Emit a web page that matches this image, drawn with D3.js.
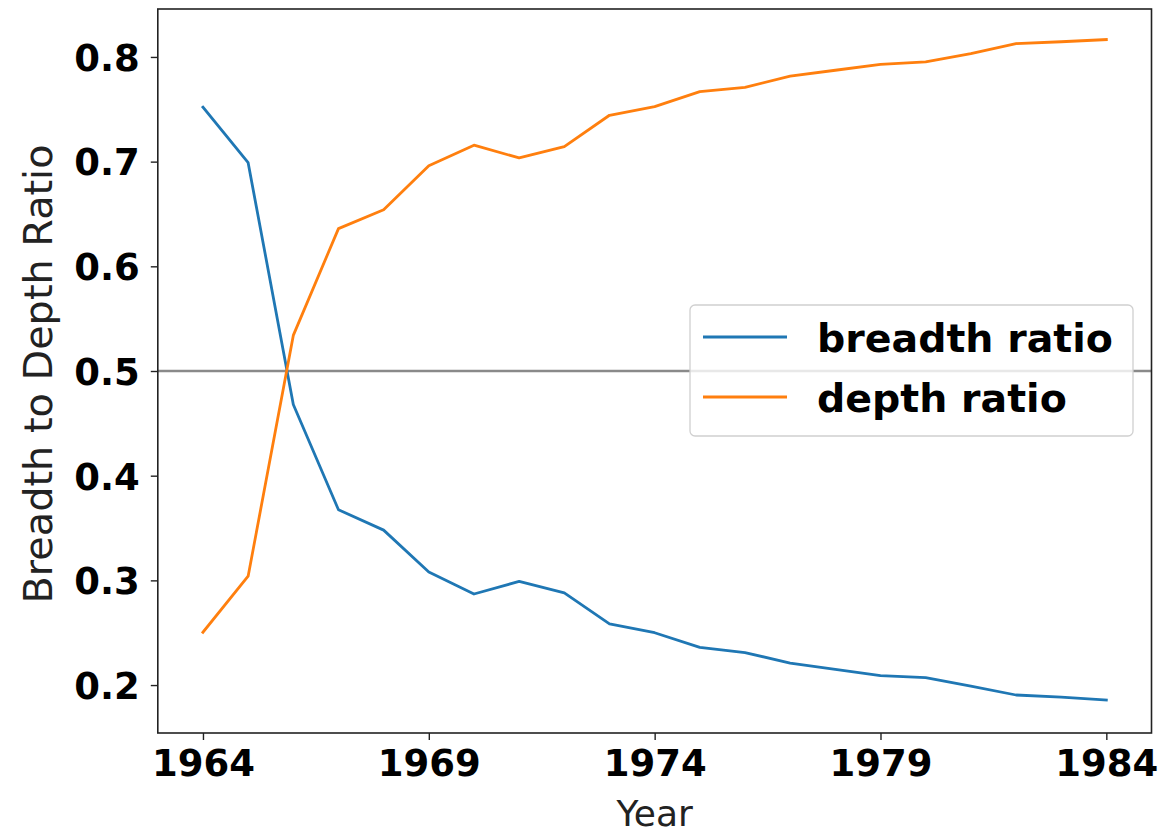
<!DOCTYPE html>
<html>
<head>
<meta charset="utf-8">
<script src="https://cdn.jsdelivr.net/npm/d3@7"></script>
<style>
  body { margin: 0; background: #fff; }
  svg { display: block; font-family: "DejaVu Sans", sans-serif; }
</style>
</head>
<body>
<div id="chart"></div>
<script>
// data
var years = [1964, 1965, 1966, 1967, 1968, 1969, 1970, 1971, 1972, 1973, 1974,
             1975, 1976, 1977, 1978, 1979, 1980, 1981, 1982, 1983, 1984];
var breadthRatio = [0.752, 0.699, 0.468, 0.3675, 0.348, 0.308, 0.287, 0.299, 0.288, 0.2585, 0.250,
                    0.236, 0.231, 0.221, 0.215, 0.209, 0.207, 0.199, 0.1905, 0.1885, 0.1857];
var depthRatio = [0.2505, 0.304, 0.534, 0.636, 0.654, 0.696, 0.7157, 0.7035, 0.7143, 0.7443, 0.7525,
                  0.7669, 0.771, 0.7816, 0.7873, 0.793, 0.7952, 0.8032, 0.8128, 0.8145, 0.8166];
var xTicks = [1964, 1969, 1974, 1979, 1984];
var yTicks = [0.2, 0.3, 0.4, 0.5, 0.6, 0.7, 0.8];
var seriesNames = ["breadth ratio", "depth ratio"];
var refLine = 0.5;

var width = 1176, height = 835;
// plot box (note: "top" is taken by window.top)
var box = {left: 157.8, right: 1151.5, top: 9, bottom: 733};

var svg = d3.select("#chart").append("svg")
    .attr("width", width)
    .attr("height", height);

var x = d3.scaleLinear().domain([1963, 1985]).range([box.left, box.right]);
var y = d3.scaleLinear().domain([0.1542, 0.8458]).range([box.bottom, box.top]);

var colors = ["#1f77b4", "#ff7f0e"];
var series = [breadthRatio, depthRatio];

// lines
var line = d3.line()
    .x(function(d, i){ return x(years[i]); })
    .y(function(d){ return y(d); });

var plot = svg.append("g");

plot.append("line")
    .attr("x1", box.left).attr("x2", box.right)
    .attr("y1", y(refLine)).attr("y2", y(refLine))
    .attr("stroke", "#8a8a8a")
    .attr("stroke-width", 2.7);

series.forEach(function(s, k){
    plot.append("path")
        .datum(s)
        .attr("d", line)
        .attr("fill", "none")
        .attr("stroke", colors[k])
        .attr("stroke-width", 2.8)
        .attr("stroke-linejoin", "round")
        .attr("stroke-linecap", "square");
});

// axes
var xAxis = svg.append("g")
    .attr("transform", "translate(0," + box.bottom + ")")
    .call(d3.axisBottom(x).tickValues(xTicks).tickFormat(d3.format("d")).tickSize(7).tickPadding(10));

var yAxis = svg.append("g")
    .attr("transform", "translate(" + box.left + ",0)")
    .call(d3.axisLeft(y).tickValues(yTicks).tickFormat(d3.format(".1f")).tickSize(7).tickPadding(11));

[xAxis, yAxis].forEach(function(a){
    a.select(".domain").remove();
    a.selectAll(".tick line").attr("stroke", "#222").attr("stroke-width", 1.4);
    a.selectAll(".tick text")
        .attr("fill", "#000")
        .attr("font-size", 37)
        .attr("font-weight", "bold")
        .attr("font-family", "DejaVu Sans");
});
yAxis.selectAll(".tick text").attr("dy", "0.36em");

// frame
svg.append("rect")
    .attr("x", box.left).attr("y", box.top)
    .attr("width", box.right - box.left).attr("height", box.bottom - box.top)
    .attr("fill", "none")
    .attr("stroke", "#222")
    .attr("stroke-width", 1.6);

// axis labels
svg.append("text")
    .attr("x", (box.left + box.right) / 2)
    .attr("y", 826)
    .attr("text-anchor", "middle")
    .attr("font-size", 36)
    .attr("fill", "#222")
    .text("Year");

svg.append("text")
    .attr("transform", "translate(52,374) rotate(-90)")
    .attr("text-anchor", "middle")
    .attr("font-size", 39.8)
    .attr("fill", "#222")
    .text("Breadth to Depth Ratio");

// legend
var legend = svg.append("g").attr("transform", "translate(690,305)");
legend.append("rect")
    .attr("width", 443).attr("height", 131)
    .attr("rx", 5)
    .attr("fill", "#fff")
    .attr("fill-opacity", 0.8)
    .attr("stroke", "#d0d0d0")
    .attr("stroke-width", 1.3);

seriesNames.forEach(function(name, k){
    var g = legend.append("g").attr("transform", "translate(0," + (32 + k * 60) + ")");
    g.append("line")
        .attr("x1", 13).attr("x2", 97)
        .attr("stroke", colors[k])
        .attr("stroke-width", 2.8);
    g.append("text")
        .attr("x", 127)
        .attr("y", 15)
        .attr("font-size", 39.5)
        .attr("font-weight", "bold")
        .attr("fill", "#000")
        .text(name);
});
</script>
</body>
</html>
